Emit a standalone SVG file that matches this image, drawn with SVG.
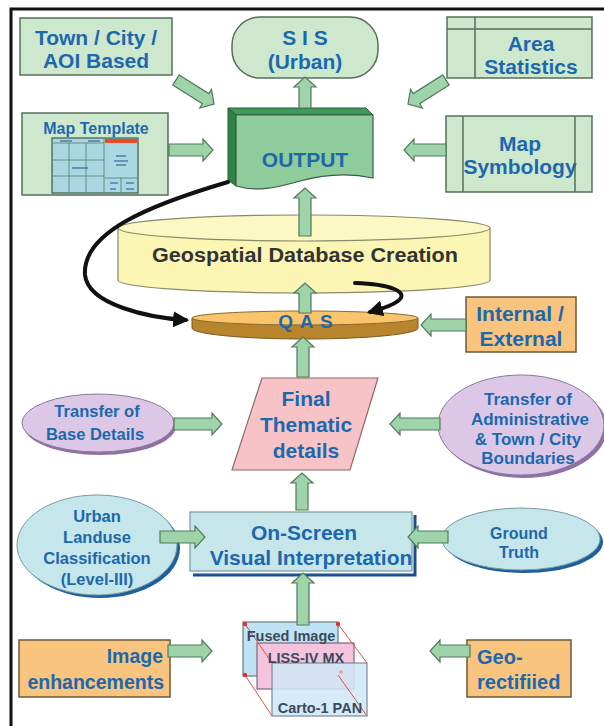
<svg xmlns="http://www.w3.org/2000/svg" width="604" height="726" viewBox="0 0 604 726">
<defs>
<style>
.t{font-family:"Liberation Sans",Arial,sans-serif;font-weight:bold;fill:#1d68ad;text-anchor:middle}
.b19{font-size:21px}
.b15{font-size:16.5px}
.gbox{fill:#cde8cd;stroke:#55705a;stroke-width:1.5}
.obox{fill:#f8c47e;stroke:#6b5a3a;stroke-width:1.5}
.arr{fill:#9fd4ab;stroke:#4f7a5a;stroke-width:1.2}
.blk{fill:none;stroke:#111;stroke-width:4;stroke-linecap:round}
.st{font-family:"Liberation Sans",Arial,sans-serif;font-weight:bold;font-size:14.5px;fill:#3b4a5c;text-anchor:middle}
</style>
<marker id="ah" viewBox="0 0 10 10" refX="8" refY="5" markerWidth="4" markerHeight="4" orient="auto" markerUnits="strokeWidth">
<path d="M0,0 L10,5 L0,10 Z" fill="#111"/>
</marker>
</defs>
<rect width="604" height="726" fill="#fff"/>
<path d="M11,726 V9 H604" fill="none" stroke="#111" stroke-width="3"/>

<g id="town">
<rect class="gbox" x="20" y="18" width="152" height="57"/>
<text class="t b19" x="96" y="45">Town / City /</text>
<text class="t b19" x="96" y="68">AOI Based</text>
</g>
<g id="sis">
<rect class="gbox" x="232" y="17" width="146" height="61" rx="28" ry="28"/>
<text class="t b19" x="305" y="45">S I S</text>
<text class="t b19" x="305" y="69">(Urban)</text>
</g>
<g id="area">
<rect class="gbox" x="447" y="17" width="145" height="61"/>
<path d="M447,29 H592 M475,17 V78" stroke="#55705a" stroke-width="1.5" fill="none"/>
<text class="t b19" x="531" y="51">Area</text>
<text class="t b19" x="531" y="74">Statistics</text>
</g>
<g id="template">
<rect class="gbox" x="22" y="113" width="146" height="82"/>
<text class="t" font-size="16" x="96" y="134">Map Template</text>
<rect x="52" y="138" width="86" height="55" fill="#a9d8e2" stroke="#3d5a45" stroke-width="1.2"/>
<path d="M104,138 V193 M53,143 H104 M69,143 V192 M86,143 V192 M53,160 H104 M53,176 H104 M105,178 H137 M121,178 V192" stroke="#5a7a70" stroke-width="0.8" fill="none"/>
<rect x="105" y="139" width="32" height="4" fill="#e84a2a"/>
<path d="M60,141 H72 M88,141 H100 M72,168 H88 M116,156 H126 M114,161 H128 M116,165 H126 M110,183 H118 M126,183 H134 M110,189 H116 M126,189 H134" stroke="#1d4f8f" stroke-width="1"/>
</g>
<g id="output">
<path d="M228,108 H366 L373,115 H236 Z" fill="#3d9a58" stroke="#2b5a3a" stroke-width="1"/>
<path d="M228,108 L236,115 V186 L228,180 Z" fill="#2e8446" stroke="#2b5a3a" stroke-width="1"/>
<path d="M236,115 H373 V178 C345,172 322,175 300,181 C276,188 256,192 236,186 Z" fill="#8fcc9c" stroke="#3b5a45" stroke-width="1.2"/>
<text class="t b19" x="305" y="167">OUTPUT</text>
</g>
<g id="symbology">
<rect class="gbox" x="446" y="116" width="146" height="76"/>
<path d="M463,116 V192 M575,116 V192" stroke="#55705a" stroke-width="1.5"/>
<text class="t b19" x="520" y="151">Map</text>
<text class="t b19" x="520" y="174">Symbology</text>
</g>
<g id="gdc">
<path d="M118,228 V280 A186,13 0 0 0 490,280 V228" fill="#fbf6b4" stroke="#8a8a6a" stroke-width="1.2"/>
<ellipse cx="304" cy="228" rx="186" ry="13" fill="#fcf8c4" stroke="#8a8a6a" stroke-width="1.2"/>
<text class="t" x="305" y="262" font-size="20" textLength="306" lengthAdjust="spacingAndGlyphs" style="fill:#333">Geospatial Database Creation</text>
</g>
<g id="qas">
<path d="M192,318 V328 A113,11 0 0 0 418,328 V318 Z" fill="#b8842c" stroke="#7a5a20" stroke-width="1"/>
<ellipse cx="305" cy="318" rx="113" ry="7" fill="#f9c46b" stroke="#8a6a30" stroke-width="1"/>
<text class="t" font-size="19" x="306" y="328" letter-spacing="1">Q A S</text>
</g>
<g id="internal">
<rect class="obox" x="466" y="297" width="110" height="55"/>
<text class="t b19" x="520" y="321">Internal /</text>
<text class="t b19" x="521" y="346">External</text>
</g>
<g id="final">
<path d="M262,378 H378 L350,470 H232 Z" fill="#f7c3c6" stroke="#8a6a6a" stroke-width="1.2"/>
<text class="t b19" x="306" y="406">Final</text>
<text class="t b19" x="306" y="432">Thematic</text>
<text class="t b19" x="306" y="458">details</text>
</g>
<g id="base">
<ellipse cx="100" cy="426" rx="76" ry="29" fill="#8f6fa8"/>
<ellipse cx="98" cy="423" rx="76" ry="29" fill="#dcc8e6" stroke="#8a7a98" stroke-width="1"/>
<text class="t b15" x="97" y="417">Transfer of</text>
<text class="t b15" x="95" y="440">Base Details</text>
</g>
<g id="admin">
<ellipse cx="524" cy="428" rx="83" ry="50" fill="#8f6fa8"/>
<ellipse cx="521" cy="425" rx="83" ry="50" fill="#dcc8e6" stroke="#8a7a98" stroke-width="1"/>
<text class="t" font-size="17" x="528" y="405">Transfer of</text>
<text class="t" font-size="17" x="530" y="425">Administrative</text>
<text class="t" font-size="17" x="528" y="445">&amp; Town / City</text>
<text class="t" font-size="17" x="528" y="464">Boundaries</text>
</g>
<g id="osvi">
<path d="M415,515 V575 H193" fill="none" stroke="#1d4f8f" stroke-width="3"/>
<rect x="190" y="512" width="222" height="59" fill="#c6e6ea" stroke="#7a9aa0" stroke-width="1.2"/>
<text class="t b19" x="304" y="540">On-Screen</text>
<text class="t b19" x="311" y="565">Visual Interpretation</text>
</g>
<g id="urban">
<ellipse cx="100" cy="548" rx="80" ry="50" fill="#1d5f9f"/>
<ellipse cx="97" cy="545" rx="80" ry="50" fill="#c5e6ea" stroke="#7a9aa0" stroke-width="1"/>
<text class="t b15" x="97" y="522">Urban</text>
<text class="t b15" x="97" y="543">Landuse</text>
<text class="t b15" x="97" y="564">Classification</text>
<text class="t b15" x="97" y="585">(Level-III)</text>
</g>
<g id="ground">
<ellipse cx="524" cy="542" rx="79" ry="31" fill="#1d5f9f"/>
<ellipse cx="521" cy="539" rx="79" ry="31" fill="#c5e6ea" stroke="#7a9aa0" stroke-width="1"/>
<text class="t" font-size="16" x="519" y="539">Ground</text>
<text class="t" font-size="16" x="519" y="558">Truth</text>
</g>
<g id="stack">
<rect x="243" y="622" width="95" height="54" fill="#bfe3f5" stroke="#6a7a88" stroke-width="1.2"/>
<rect x="257" y="643" width="97" height="46" fill="#f4c4dc" stroke="#7a6a7a" stroke-width="1.2"/>
<rect x="272" y="663" width="95" height="53" fill="#cfe8f7" fill-opacity="0.85" stroke="#7a8a98" stroke-width="1.2"/>
<path d="M245,624 L272,663 M338,624 L367,663 M245,675 L272,716 M338,675 L367,716" stroke="#e0504a" stroke-width="1" fill="none"/>
<circle cx="245" cy="624" r="2.2" fill="#e03030"/>
<circle cx="338" cy="624" r="2.2" fill="#e03030"/>
<circle cx="245" cy="675" r="2.2" fill="#e03030"/>
<circle cx="341" cy="672" r="2" fill="#e8a8a0"/>
<text class="st" x="291" y="641">Fused Image</text>
<text class="st" x="306" y="663">LISS-IV MX</text>
<text class="st" x="320" y="713">Carto-1 PAN</text>
</g>
<g id="enh">
<rect class="obox" x="19" y="640" width="151" height="57"/>
<text class="t" font-size="19.5" x="163" y="663" style="text-anchor:end">Image</text>
<text class="t" font-size="19.5" x="164" y="689" style="text-anchor:end">enhancements</text>
</g>
<g id="geo">
<rect class="obox" x="467" y="640" width="104" height="57"/>
<text class="t" font-size="20" x="477" y="664" style="text-anchor:start">Geo-</text>
<text class="t" font-size="20" x="477" y="689" style="text-anchor:start">rectifiied</text>
</g>

<g id="connectors">
<path class="arr" transform="translate(176,80) rotate(32.3)" d="M0,-6 H35 V-11 L45,0 L35,11 V6 H0 Z"/>
<path class="arr" transform="translate(446,80) rotate(147.7)" d="M0,-6 H35 V-11 L45,0 L35,11 V6 H0 Z"/>
<path class="arr" transform="translate(169,150)" d="M0,-6 H34 V-11 L44,0 L34,11 V6 H0 Z"/>
<path class="arr" transform="translate(446,150) rotate(180)" d="M0,-6 H32 V-11 L42,0 L32,11 V6 H0 Z"/>
<path class="arr" transform="translate(305,108) rotate(-90)" d="M0,-6 H21 V-11 L31,0 L21,11 V6 H0 Z"/>
<path class="arr" transform="translate(305,236) rotate(-90)" d="M0,-6 H38 V-11 L48,0 L38,11 V6 H0 Z"/>
<path class="arr" transform="translate(305,313) rotate(-90)" d="M0,-6 H20 V-11 L30,0 L20,11 V6 H0 Z"/>
<path class="arr" transform="translate(303,377) rotate(-90)" d="M0,-6 H30 V-11 L40,0 L30,11 V6 H0 Z"/>
<path class="arr" transform="translate(466,325) rotate(180)" d="M0,-6 H35 V-11 L45,0 L35,11 V6 H0 Z"/>
<path class="arr" transform="translate(174,424)" d="M0,-6 H38 V-11 L48,0 L38,11 V6 H0 Z"/>
<path class="arr" transform="translate(440,424) rotate(180)" d="M0,-6 H40 V-11 L50,0 L40,11 V6 H0 Z"/>
<path class="arr" transform="translate(302,510) rotate(-90)" d="M0,-6 H27 V-11 L37,0 L27,11 V6 H0 Z"/>
<path class="arr" transform="translate(160,537)" d="M0,-6 H35 V-11 L45,0 L35,11 V6 H0 Z"/>
<path class="arr" transform="translate(448,537) rotate(180)" d="M0,-6 H30 V-11 L40,0 L30,11 V6 H0 Z"/>
<path class="arr" transform="translate(303,625) rotate(-90)" d="M0,-6 H42 V-11 L52,0 L42,11 V6 H0 Z"/>
<path class="arr" transform="translate(168,651)" d="M0,-6 H34 V-11 L44,0 L34,11 V6 H0 Z"/>
<path class="arr" transform="translate(470,651) rotate(180)" d="M0,-6 H30 V-11 L40,0 L30,11 V6 H0 Z"/>
<path class="blk" d="M228,182 C150,205 82,232 85,275 C88,305 150,318 186,320" marker-end="url(#ah)"/>
<path class="blk" d="M355,283 C390,284 410,292 398,301 C390,307 380,309 370,312" marker-end="url(#ah)"/>
</g>
</svg>
